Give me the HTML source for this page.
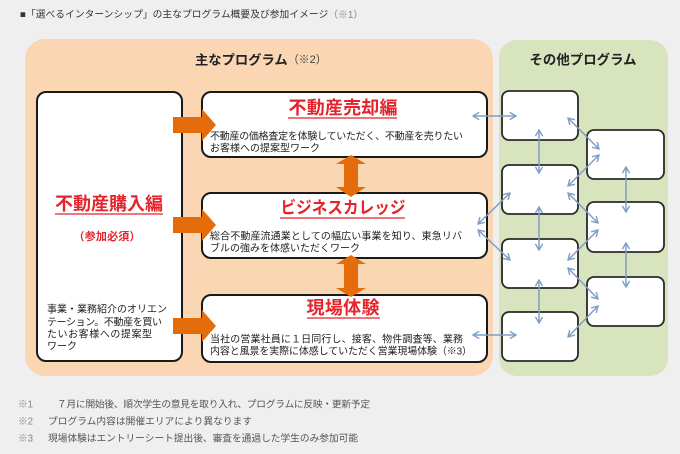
<!DOCTYPE html>
<html><head><meta charset="utf-8"><style>
html,body{margin:0;padding:0;background:#efefef;}
svg{display:block;}
text{font-family:"Liberation Sans","Noto Sans CJK JP",sans-serif;}
</style></head><body>
<svg width="680" height="454" viewBox="0 0 680 454" xmlns="http://www.w3.org/2000/svg">
<defs>
<marker id="ah" viewBox="0 0 8 8" refX="7" refY="4" markerWidth="5.5" markerHeight="5.5" orient="auto-start-reverse" markerUnits="strokeWidth">
<path d="M1,0.5 L7,4 L1,7.5" fill="none" stroke="#7f9fc4" stroke-width="1.4"/>
</marker>
</defs>
<rect x="0" y="0" width="680" height="454" fill="#efefef"/>

<!-- header -->
<text x="20" y="15" font-size="9.7" fill="#333" dominant-baseline="central" textLength="343" lengthAdjust="spacing">■「選べるインターンシップ」の主なプログラム概要及び参加イメージ<tspan fill="#888">（※1）</tspan></text>

<!-- panels -->
<rect x="25" y="39" width="468" height="337" rx="20" fill="#fbd6b3"/>
<rect x="499" y="40" width="169" height="336" rx="18" fill="#d7e4bd"/>

<text x="195" y="60" font-size="13.3" font-weight="bold" fill="#222" dominant-baseline="central">主なプログラム<tspan font-weight="normal" font-size="11" fill="#444">（※2）</tspan></text>
<text x="583" y="60" font-size="13.4" font-weight="bold" fill="#222" dominant-baseline="central" text-anchor="middle" textLength="107" lengthAdjust="spacing">その他プログラム</text>

<!-- left box -->
<rect x="37" y="92" width="145" height="269" rx="9" fill="#fff" stroke="#1a1a1a" stroke-width="2"/>
<!-- program boxes -->
<rect x="202" y="92" width="285" height="65" rx="9" fill="#fff" stroke="#1a1a1a" stroke-width="2"/>
<rect x="202" y="193" width="285" height="65" rx="9" fill="#fff" stroke="#1a1a1a" stroke-width="2"/>
<rect x="202" y="295" width="285" height="67" rx="9" fill="#fff" stroke="#1a1a1a" stroke-width="2"/>

<!-- green boxes -->
<g fill="#fff" stroke="#2a2a2a" stroke-width="1.8">
<rect x="502" y="91" width="76" height="49" rx="7"/>
<rect x="502" y="165" width="76" height="49" rx="7"/>
<rect x="502" y="239" width="76" height="49" rx="7"/>
<rect x="502" y="312" width="76" height="49" rx="7"/>
<rect x="587" y="130" width="77" height="49" rx="7"/>
<rect x="587" y="202" width="77" height="50" rx="7"/>
<rect x="587" y="277" width="77" height="49" rx="7"/>
</g>

<!-- left box text -->
<text x="109" y="204" font-size="18" font-weight="bold" fill="#e4232b" dominant-baseline="central" text-anchor="middle" textLength="108" lengthAdjust="spacing">不動産購入編</text>
<line x1="55" y1="214" x2="163" y2="214" stroke="#e4232b" stroke-width="1.3"/>
<text x="107" y="237" font-size="11" font-weight="bold" fill="#e4232b" dominant-baseline="central" text-anchor="middle" textLength="67" lengthAdjust="spacing">（参加必須）</text>
<g font-size="10" fill="#222">
<text x="47" y="310" dominant-baseline="central" textLength="120" lengthAdjust="spacing">事業・業務紹介のオリエン</text>
<text x="47" y="323" dominant-baseline="central" textLength="115" lengthAdjust="spacing">テーション。不動産を買い</text>
<text x="47" y="335" dominant-baseline="central" textLength="105" lengthAdjust="spacing">たいお客様への提案型</text>
<text x="47" y="347" dominant-baseline="central">ワーク</text>
</g>

<!-- program 1 -->
<text x="343" y="108" font-size="18" font-weight="bold" fill="#e4232b" dominant-baseline="central" text-anchor="middle" textLength="109" lengthAdjust="spacing">不動産売却編</text>
<line x1="288" y1="118" x2="397" y2="118" stroke="#e4232b" stroke-width="1.3"/>
<g font-size="10" fill="#222">
<text x="210" y="137" dominant-baseline="central" textLength="253" lengthAdjust="spacing">不動産の価格査定を体験していただく、不動産を売りたい</text>
<text x="210" y="149" dominant-baseline="central">お客様への提案型ワーク</text>
</g>

<!-- program 2 -->
<text x="343" y="208" font-size="17" font-weight="bold" fill="#e4232b" dominant-baseline="central" text-anchor="middle" textLength="125" lengthAdjust="spacingAndGlyphs">ビジネスカレッジ</text>
<line x1="280" y1="218" x2="405" y2="218" stroke="#e4232b" stroke-width="1.3"/>
<g font-size="10" fill="#222">
<text x="210" y="237" dominant-baseline="central" textLength="252" lengthAdjust="spacing">総合不動産流通業としての幅広い事業を知り、東急リバ</text>
<text x="210" y="249" dominant-baseline="central">ブルの強みを体感いただくワーク</text>
</g>

<!-- program 3 -->
<text x="343" y="308" font-size="18" font-weight="bold" fill="#e4232b" dominant-baseline="central" text-anchor="middle" textLength="73" lengthAdjust="spacing">現場体験</text>
<line x1="307" y1="318" x2="380" y2="318" stroke="#e4232b" stroke-width="1.3"/>
<g font-size="10" fill="#222">
<text x="210" y="340" dominant-baseline="central" textLength="253" lengthAdjust="spacing">当社の営業社員に１日同行し、接客、物件調査等、業務</text>
<text x="210" y="352" dominant-baseline="central" textLength="262" lengthAdjust="spacing">内容と風景を実際に体感していただく営業現場体験（※3）</text>
</g>

<!-- orange arrows -->
<g fill="#e46c0a">
<polygon points="173,117 202,117 202,109 216,125 202,141 202,133 173,133"/>
<polygon points="173,217 202,217 202,209 216,225 202,241 202,233 173,233"/>
<polygon points="173,318 202,318 202,310 216,326 202,342 202,334 173,334"/>
<polygon points="351,155 366,164 358,164 358,187 366,187 351,197 336,187 344,187 344,164 336,164"/>
<polygon points="351,255 366,264 358,264 358,288 366,288 351,297 336,288 344,288 344,264 336,264"/>
</g>

<!-- blue arrows -->
<g stroke="#7f9fc4" stroke-width="1.5" fill="none" marker-start="url(#ah)" marker-end="url(#ah)">
<line x1="473" y1="116" x2="516" y2="116"/>
<line x1="539" y1="130" x2="539" y2="173"/>
<line x1="568" y1="118" x2="599" y2="149"/>
<line x1="568" y1="186" x2="599" y2="155"/>
<line x1="510" y1="193" x2="478" y2="224"/>
<line x1="478" y1="230" x2="510" y2="260"/>
<line x1="568" y1="193" x2="598" y2="223"/>
<line x1="568" y1="260" x2="598" y2="230"/>
<line x1="539" y1="207" x2="539" y2="250"/>
<line x1="568" y1="268" x2="598" y2="299"/>
<line x1="568" y1="337" x2="598" y2="306"/>
<line x1="539" y1="280" x2="539" y2="323"/>
<line x1="626" y1="167" x2="626" y2="212"/>
<line x1="626" y1="243" x2="626" y2="287"/>
<line x1="473" y1="335" x2="516" y2="335"/>
</g>

<!-- footnotes -->
<g font-size="9.7" fill="#555">
<text x="18" y="405" dominant-baseline="central" fill="#888">※1</text>
<text x="57" y="405" dominant-baseline="central" textLength="313" lengthAdjust="spacing">７月に開始後、順次学生の意見を取り入れ、プログラムに反映・更新予定</text>
<text x="18" y="422" dominant-baseline="central" fill="#888">※2</text>
<text x="48" y="422" dominant-baseline="central" textLength="204" lengthAdjust="spacing">プログラム内容は開催エリアにより異なります</text>
<text x="18" y="439" dominant-baseline="central" fill="#888">※3</text>
<text x="48" y="439" dominant-baseline="central" textLength="310" lengthAdjust="spacing">現場体験はエントリーシート提出後、審査を通過した学生のみ参加可能</text>
</g>
</svg>
</body></html>
